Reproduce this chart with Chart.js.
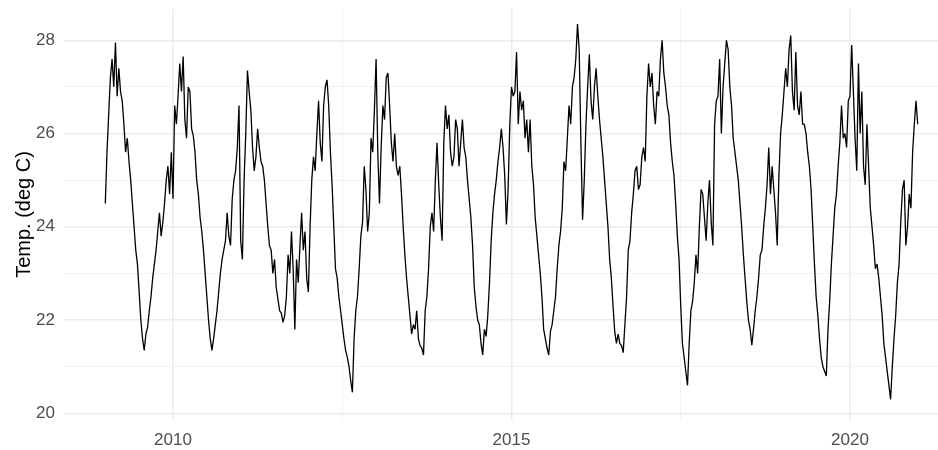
<!DOCTYPE html>
<html>
<head>
<meta charset="utf-8">
<title>Temp. (deg C)</title>
<script src="https://cdn.jsdelivr.net/npm/chart.js@4.4.1/dist/chart.umd.min.js"></script>
<style>
  html, body { margin: 0; padding: 0; background: #fff; }
  #wrap { width: 938px; height: 450px; }
</style>
</head>
<body>
<div id="wrap"><canvas id="tempChart" width="938" height="450"></canvas></div>
<script>
// ค่าอุณหภูมิอ่านจากภาพ ปีละ 40 จุด (ประมาณทุก 9 วัน)
const years = [2009, 2010, 2011, 2012, 2013, 2014, 2015, 2016, 2017, 2018, 2019, 2020];
const stepsPerYear = 40;

const t2009 = [24.5, 25.6, 26.4, 27.2, 27.6, 27.0, 27.95, 26.8, 27.4, 26.9, 26.7, 26.2, 25.6, 25.9, 25.4, 25.0, 24.5, 24.0, 23.5, 23.2, 22.6, 22.0, 21.6, 21.35, 21.7, 21.85, 22.2, 22.5, 22.9, 23.2, 23.5, 23.9, 24.3, 23.8, 24.1, 24.5, 25.0, 25.3, 24.7, 25.6];
const t2010 = [24.6, 26.6, 26.2, 26.8, 27.5, 26.9, 27.65, 26.3, 25.9, 27.0, 26.9, 26.1, 25.95, 25.6, 25.0, 24.7, 24.2, 23.9, 23.5, 23.0, 22.5, 22.0, 21.6, 21.35, 21.6, 21.9, 22.2, 22.6, 23.0, 23.3, 23.5, 23.7, 24.3, 23.8, 23.6, 24.6, 25.0, 25.2, 25.7, 26.6];
const t2011 = [23.7, 23.3, 25.0, 26.0, 27.35, 26.9, 26.5, 25.7, 25.2, 25.5, 26.1, 25.7, 25.4, 25.3, 25.0, 24.5, 24.0, 23.6, 23.5, 23.0, 23.3, 22.7, 22.45, 22.2, 22.15, 21.95, 22.1, 22.5, 23.4, 23.0, 23.9, 23.1, 21.8, 23.3, 22.8, 23.6, 24.3, 23.5, 23.9, 22.9];
const t2012 = [22.6, 24.0, 25.0, 25.5, 25.2, 26.0, 26.7, 25.8, 25.4, 26.6, 27.0, 27.15, 26.6, 25.6, 24.9, 24.0, 23.1, 22.9, 22.5, 22.2, 21.9, 21.6, 21.35, 21.2, 21.0, 20.7, 20.45, 21.6, 22.2, 22.5, 23.1, 23.8, 24.1, 25.3, 24.8, 23.9, 24.3, 25.9, 25.6, 26.5];
const t2013 = [27.6, 25.6, 24.5, 25.7, 26.6, 26.3, 27.2, 27.3, 26.6, 25.8, 25.4, 26.0, 25.3, 25.1, 25.3, 24.7, 24.0, 23.4, 22.9, 22.5, 22.1, 21.7, 21.9, 21.8, 22.2, 21.6, 21.45, 21.4, 21.25, 22.2, 22.5, 23.1, 24.0, 24.3, 23.9, 25.0, 25.8, 24.9, 24.2, 23.7];
const t2014 = [25.8, 26.6, 26.1, 26.4, 25.6, 25.3, 25.5, 26.3, 26.1, 25.3, 25.8, 26.3, 25.7, 25.5, 25.0, 24.6, 24.2, 23.6, 22.7, 22.3, 22.0, 21.9, 21.5, 21.25, 21.8, 21.65, 22.1, 22.8, 23.7, 24.3, 24.7, 25.0, 25.4, 25.7, 26.1, 25.7, 25.1, 24.05, 24.8, 26.2];
const t2015 = [27.0, 26.8, 26.9, 27.75, 26.2, 26.9, 26.5, 26.7, 25.9, 26.3, 25.6, 26.3, 25.3, 24.9, 24.2, 23.8, 23.4, 23.0, 22.5, 21.8, 21.6, 21.4, 21.25, 21.75, 21.9, 22.2, 22.5, 23.1, 23.6, 23.9, 24.4, 25.4, 25.2, 25.9, 26.6, 26.2, 27.0, 27.2, 27.6, 28.35];
const t2016 = [27.8, 25.8, 24.15, 25.0, 26.2, 27.0, 27.7, 26.7, 26.3, 27.0, 27.4, 26.8, 26.3, 25.9, 25.5, 25.0, 24.5, 24.0, 23.3, 22.9, 22.3, 21.75, 21.5, 21.7, 21.5, 21.45, 21.3, 21.9, 22.5, 23.5, 23.7, 24.3, 24.7, 25.2, 25.3, 24.8, 24.9, 25.5, 25.7, 25.4];
const t2017 = [26.8, 27.5, 27.0, 27.3, 26.6, 26.2, 26.9, 26.8, 27.6, 28.0, 27.3, 27.0, 26.6, 26.4, 25.8, 25.4, 25.1, 24.5, 23.8, 23.3, 22.3, 21.5, 21.2, 20.9, 20.6, 21.5, 22.2, 22.4, 22.8, 23.4, 23.0, 24.0, 24.8, 24.7, 24.2, 23.7, 24.5, 25.0, 24.1, 23.6];
const t2018 = [26.2, 26.7, 26.8, 27.6, 26.0, 27.0, 27.5, 28.0, 27.8, 27.0, 26.6, 25.9, 25.6, 25.3, 25.0, 24.5, 24.0, 23.4, 22.9, 22.4, 22.0, 21.8, 21.46, 21.8, 22.2, 22.5, 22.9, 23.4, 23.5, 24.0, 24.4, 24.9, 25.7, 24.7, 25.3, 24.8, 24.3, 23.6, 25.1, 26.0];
const t2019 = [26.4, 26.9, 27.4, 27.0, 27.8, 28.1, 26.9, 26.5, 27.75, 26.6, 26.4, 26.9, 26.2, 26.2, 26.0, 25.6, 25.3, 24.8, 24.0, 23.2, 22.5, 22.1, 21.6, 21.2, 21.0, 20.9, 20.8, 21.8, 22.4, 23.2, 23.8, 24.4, 24.7, 25.3, 25.8, 26.6, 25.9, 26.0, 25.7, 26.7];
const t2020 = [26.8, 27.9, 26.9, 25.9, 25.2, 27.5, 26.0, 26.9, 25.3, 24.9, 26.2, 25.3, 24.4, 24.0, 23.6, 23.1, 23.2, 22.9, 22.5, 22.1, 21.5, 21.2, 20.9, 20.6, 20.3, 21.0, 21.6, 22.1, 22.8, 23.2, 24.1, 24.8, 25.0, 23.6, 24.0, 24.7, 24.4, 25.6, 26.2, 26.7, 26.2];

// เส้นกริดและป้ายแกน
const xBreaks = [2010, 2012.5, 2015, 2017.5, 2020];
const xLabels = ["2010", "", "2015", "", "2020"];
const yBreaks = [20, 21, 22, 23, 24, 25, 26, 27, 28];
const yLabels = ["20", "", "22", "", "24", "", "26", "", "28"];

const temps = [t2009, t2010, t2011, t2012, t2013, t2014, t2015, t2016, t2017, t2018, t2019, t2020];

// แปลงเป็นจุด {x: ปีทศนิยม, y: อุณหภูมิ}
const points = [];
years.forEach((yr, j) => {
  temps[j].forEach((v, i) => {
    points.push({ x: yr + i / stepsPerYear, y: v });
  });
});

const FONT = "'Liberation Sans', Arial, sans-serif";

function gridWidth(ctx, isMajor) {
  if (!ctx.tick) return 0;
  return isMajor(ctx.tick.value) ? 1.5 : 0.9;
}

const ctx = document.getElementById("tempChart").getContext("2d");

new Chart(ctx, {
  type: "line",
  data: {
    datasets: [
      {
        data: points,
        borderColor: "#000",
        borderWidth: 1.3, // เส้นหนาขึ้นเล็กน้อยให้ใกล้ข้อมูลรายวันในภาพ
        borderJoinStyle: "bevel",
        pointRadius: 0,
        tension: 0,
        fill: false,
      },
    ],
  },
  options: {
    responsive: false,
    animation: false,
    devicePixelRatio: 1,
    layout: {
      padding: { top: 9, left: 0, right: 0, bottom: 0 },
    },
    plugins: {
      legend: { display: false },
      tooltip: { enabled: false },
    },
    scales: {
      x: {
        type: "linear",
        min: 2008.39,
        max: 2021.3,
        afterBuildTicks: (scale) => {
          scale.ticks = xBreaks.map((v) => ({ value: v }));
        },
        afterFit: (scale) => {
          scale.height = 30;
          scale.paddingLeft = 0;
          scale.paddingRight = 0;
        },
        border: { display: false },
        grid: {
          drawTicks: false,
          color: (c) => (c.tick && c.tick.value % 5 === 0 ? "#ebebeb" : "#f1f1f1"),
          lineWidth: (c) => gridWidth(c, (v) => v % 5 === 0),
        },
        ticks: {
          autoSkip: false,
          maxRotation: 0,
          padding: 10,
          color: "#4d4d4d",
          font: { family: FONT, size: 17 },
          callback: (value, index) => xLabels[index],
        },
      },
      y: {
        type: "linear",
        min: 19.856,
        max: 28.671,
        afterBuildTicks: (scale) => {
          scale.ticks = yBreaks.map((v) => ({ value: v }));
        },
        afterFit: (scale) => {
          scale.width = 64;
          scale.paddingTop = 0;
          scale.paddingBottom = 0;
        },
        border: { display: false },
        grid: {
          drawTicks: false,
          color: (c) => (c.tick && c.tick.value % 2 === 0 ? "#ebebeb" : "#f1f1f1"),
          lineWidth: (c) => gridWidth(c, (v) => v % 2 === 0),
        },
        ticks: {
          padding: 9,
          color: "#4d4d4d",
          font: { family: FONT, size: 17 },
          callback: (value, index) => yLabels[index],
        },
        title: {
          display: true,
          text: "Temp. (deg C)",
          color: "#000",
          font: { family: FONT, size: 20 },
          padding: { top: 12, bottom: 0 },
        },
      },
    },
  },
});
</script>
</body>
</html>
